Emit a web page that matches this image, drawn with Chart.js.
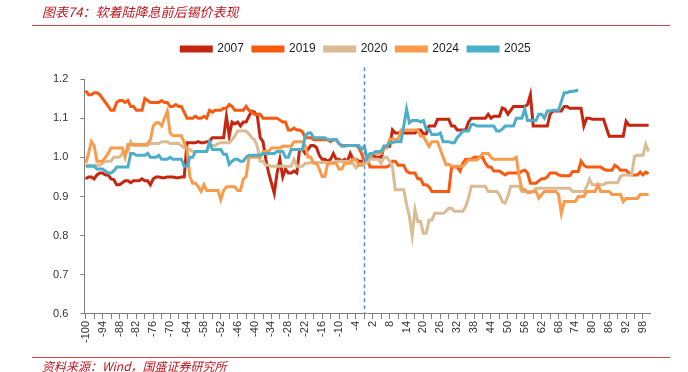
<!DOCTYPE html>
<html>
<head>
<meta charset="utf-8">
<script src="https://cdn.jsdelivr.net/npm/chart.js@4.4.1/dist/chart.umd.min.js"></script>
<style>
  body { margin: 0; background: #fff; }
  .chart-container { position: relative; width: 688px; height: 372px; }
</style>
</head>
<body>
<div class="chart-container"><canvas id="chart"></canvas></div>
<script>
// days relative to the first cut (-100 .. 100)
const days = [];
for (let d = -100; d <= 100; d++) days.push(d);

const yTicks = [0.6, 0.7, 0.8, 0.9, 1.0, 1.1, 1.2];

const s2007 = [
  0.945, 0.95, 0.95, 0.945, 0.955,
  0.96, 0.96, 0.955, 0.955, 0.945,
  0.943, 0.93, 0.93, 0.935, 0.94,
  0.94, 0.935, 0.94, 0.94, 0.94,
  0.945, 0.94, 0.94, 0.93, 0.945,
  0.95, 0.95, 0.948, 0.948, 0.95,
  0.95, 0.95, 0.948, 0.948, 0.95,
  0.95, 1.037, 1.037, 1.037, 1.037,
  1.04, 1.037, 1.037, 1.04, 1.04,
  1.05, 1.05, 1.05, 1.05, 1.05,
  1.105, 1.055, 1.09, 1.085, 1.09,
  1.08, 1.09, 1.09, 1.105, 1.118,
  1.115, 1.105, 1.05, 1.04, 0.995,
  0.96, 0.934, 0.908, 0.96, 0.995,
  0.95, 0.97, 0.96, 0.96, 0.965,
  0.96, 1.02, 1.02, 1.01, 1.02,
  1.03, 1.03, 1.025, 1.005, 0.995,
  0.995, 0.99, 0.995, 1.01, 0.995,
  0.995, 0.99, 0.995, 0.99, 1.01,
  0.995, 0.995, 0.99, 0.99, 0.99,
  1.0, 1.0, 1.005, 1.0, 1.0,
  1.0, 1.028, 1.028, 1.028, 1.07,
  1.062, 1.062, 1.062, 1.062, 1.062,
  1.062, 1.062, 1.062, 1.07, 1.07,
  1.06, 1.06, 1.08, 1.08, 1.08,
  1.097, 1.097, 1.097, 1.097, 1.097,
  1.08, 1.08, 1.07, 1.07, 1.07,
  1.07, 1.09, 1.10, 1.10, 1.10,
  1.10, 1.10, 1.10, 1.11, 1.10,
  1.105, 1.105, 1.105, 1.126, 1.123,
  1.11, 1.12, 1.13, 1.13, 1.13,
  1.13, 1.13, 1.135, 1.16, 1.08,
  1.08, 1.08, 1.08, 1.08, 1.08,
  1.11, 1.118, 1.118, 1.118, 1.118,
  1.13, 1.13, 1.125, 1.125, 1.125,
  1.125, 1.125, 1.08, 1.10, 1.10,
  1.097, 1.097, 1.097, 1.097, 1.097,
  1.075, 1.054, 1.054, 1.054, 1.054,
  1.054, 1.054, 1.092, 1.082, 1.082,
  1.082, 1.082, 1.082, 1.082, 1.082,
  1.082
];

const s2019 = [
  1.17, 1.16, 1.16, 1.165, 1.165,
  1.16, 1.15, 1.14, 1.13, 1.12,
  1.12, 1.14, 1.145, 1.145, 1.14,
  1.145, 1.13, 1.13, 1.12, 1.12,
  1.12, 1.15, 1.145, 1.14, 1.14,
  1.14, 1.14, 1.145, 1.14, 1.14,
  1.13, 1.13, 1.135, 1.13, 1.13,
  1.115, 1.10, 1.10, 1.10, 1.105,
  1.10, 1.10, 1.105, 1.10, 1.12,
  1.115, 1.12, 1.12, 1.12, 1.125,
  1.125, 1.135, 1.13, 1.12, 1.12,
  1.12, 1.12, 1.13, 1.12, 1.115,
  1.11, 1.11, 1.11, 1.10, 1.10,
  1.10, 1.10, 1.10, 1.10, 1.095,
  1.09, 1.09, 1.07, 1.07, 1.075,
  1.07, 1.07, 1.065, 1.05, 1.05,
  1.05, 1.045, 1.045, 1.045, 1.045,
  1.045, 1.045, 1.04, 1.045, 1.045,
  1.035, 1.03, 1.03, 1.03, 1.03,
  1.03, 1.03, 1.025, 1.01, 0.99,
  1.0, 0.975, 0.975, 0.975, 0.975,
  0.975, 0.975, 0.975, 0.98, 0.99,
  0.99, 0.98, 0.98, 0.98, 0.965,
  0.96, 0.96, 0.96, 0.945, 0.945,
  0.93, 0.93, 0.925, 0.913, 0.913,
  0.913, 0.913, 0.913, 0.913, 0.913,
  0.975, 0.975, 0.975, 0.965, 0.985,
  0.995, 0.995, 0.995, 1.0, 1.0,
  1.0, 1.0, 0.985, 0.975, 0.975,
  0.965, 0.965, 0.965, 0.96, 0.955,
  0.96, 0.96, 0.96, 0.96, 0.96,
  0.965, 0.967, 0.96, 0.934, 0.934,
  0.934, 0.94, 0.945, 0.945, 0.95,
  0.96, 0.96, 0.96, 0.955, 0.953,
  0.953, 0.953, 0.953, 0.964, 0.964,
  0.964, 0.99, 0.98, 0.975, 0.975,
  0.975, 0.975, 0.975, 0.975, 0.97,
  0.967, 0.967, 0.967, 0.98, 0.975,
  0.967, 0.967, 0.967, 0.96, 0.955,
  0.955, 0.955, 0.962, 0.955, 0.962,
  0.958
];

const s2020 = [
  0.98, 0.98, 0.98, 0.98, 0.98,
  0.98, 0.985, 0.99, 0.99, 0.99,
  1.0, 1.0, 1.0, 1.01, 1.015,
  1.015, 1.04, 1.03, 1.03, 1.03,
  1.03, 1.03, 1.03, 1.035, 1.035,
  1.035, 1.035, 1.04, 1.04, 1.04,
  1.035, 1.035, 1.035, 1.035, 1.03,
  1.024, 1.024, 1.02, 1.015, 1.015,
  1.015, 1.015, 1.015, 1.015, 1.03,
  1.03, 1.03, 1.035, 1.037, 1.037,
  1.037, 1.037, 1.045, 1.054, 1.067,
  1.067, 1.067, 1.067, 1.06, 1.05,
  1.045, 1.028, 0.99, 0.99, 0.98,
  0.98, 0.977, 0.977, 0.977, 0.977,
  0.977, 0.977, 0.977, 0.977, 0.995,
  0.977, 0.977, 0.977, 0.985, 0.985,
  0.987, 0.987, 0.987, 0.987, 0.987,
  0.987, 0.987, 0.987, 0.987, 0.99,
  0.99, 0.99, 0.99, 0.99, 0.99,
  0.985, 0.973, 0.98, 0.98, 0.985,
  0.985, 0.995, 0.995, 0.995, 0.995,
  0.985, 1.0, 1.0, 0.99, 0.976,
  0.917, 0.917, 0.917, 0.917, 0.88,
  0.849, 0.80, 0.867, 0.836, 0.836,
  0.806, 0.806, 0.84, 0.84, 0.857,
  0.857, 0.857, 0.857, 0.862, 0.87,
  0.87, 0.862, 0.862, 0.862, 0.862,
  0.874, 0.896, 0.926, 0.926, 0.926,
  0.926, 0.926, 0.926, 0.913, 0.913,
  0.913, 0.913, 0.905, 0.887, 0.883,
  0.90, 0.926, 0.926, 0.926, 0.926,
  0.913, 0.913, 0.913, 0.913, 0.913,
  0.921, 0.921, 0.921, 0.921, 0.921,
  0.921, 0.921, 0.921, 0.921, 0.921,
  0.921, 0.921, 0.921, 0.913, 0.913,
  0.913, 0.913, 0.913, 0.925, 0.944,
  0.93, 0.93, 0.93, 0.93, 0.93,
  0.935, 0.935, 0.935, 0.935, 0.935,
  0.951, 0.955, 0.955, 0.955, 0.955,
  1.003, 1.005, 1.005, 1.005, 1.033,
  1.015
];

const s2024 = [
  0.985, 1.01, 1.04, 1.03, 0.99,
  0.99, 0.99, 1.0, 1.01, 1.024,
  1.024, 1.024, 1.024, 1.024, 1.0,
  1.033, 1.033, 1.033, 1.033, 1.033,
  1.033, 1.033, 1.035, 1.045, 1.08,
  1.088, 1.088, 1.08, 1.10, 1.118,
  1.062, 1.055, 1.055, 1.055, 1.055,
  1.037, 1.02, 0.951, 0.934, 0.934,
  0.925, 0.913, 0.93, 0.915, 0.915,
  0.915, 0.915, 0.915, 0.892, 0.915,
  0.925, 0.925, 0.925, 0.925, 0.915,
  0.915, 0.944, 0.951, 1.0, 1.0,
  1.0, 1.0, 1.0, 1.015, 1.015,
  1.015, 1.024, 1.024, 1.024, 1.024,
  1.028, 1.028, 1.028, 1.028, 1.04,
  1.04, 1.04, 1.04, 1.03, 1.0,
  1.0, 0.985, 0.985, 0.97, 0.951,
  0.951, 0.985, 0.985, 0.985, 0.985,
  0.97, 0.97, 0.985, 0.985, 0.985,
  0.995, 0.995, 0.98, 0.98, 0.99,
  1.0, 1.0, 1.01, 1.01, 1.01,
  1.01, 1.024, 1.024, 1.046, 1.046,
  1.046, 1.046, 1.07, 1.07, 1.07,
  1.07, 1.07, 1.07, 1.07, 1.054,
  1.054, 1.04, 1.028, 1.04, 1.04,
  1.04, 1.02, 1.0, 0.982, 0.982,
  0.977, 0.977, 0.977, 0.977, 0.977,
  0.985, 0.993, 0.993, 0.993, 0.993,
  1.0, 1.01, 1.01, 1.01, 1.0,
  0.995, 0.995, 0.995, 0.995, 0.995,
  0.995, 0.995, 0.995, 1.0, 0.951,
  0.918, 0.918, 0.91, 0.91, 0.913,
  0.913, 0.896, 0.905, 0.913, 0.913,
  0.913, 0.913, 0.913, 0.905, 0.857,
  0.887, 0.887, 0.887, 0.887, 0.887,
  0.9, 0.9, 0.9, 0.913, 0.913,
  0.913, 0.913, 0.93, 0.913, 0.913,
  0.913, 0.913, 0.905, 0.905, 0.905,
  0.905, 0.887, 0.895, 0.895, 0.895,
  0.895, 0.895, 0.905, 0.905, 0.905,
  0.905
];

const s2025 = [
  0.977, 0.977, 0.977, 0.977, 0.97,
  0.97, 0.97, 0.965, 0.96, 0.96,
  0.965, 0.975, 0.975, 0.975, 0.975,
  0.975, 1.01, 1.01, 1.005, 1.005,
  1.005, 1.005, 1.01, 1.0, 1.0,
  1.0, 1.005, 0.995, 0.995, 0.995,
  1.0, 0.995, 0.995, 0.995, 0.995,
  0.977, 0.977, 1.0, 1.0, 1.015,
  1.015, 1.015, 1.015, 1.015, 1.04,
  1.02, 1.02, 1.02, 1.02, 1.008,
  1.008, 0.982, 0.99, 0.995, 0.995,
  0.99, 0.99, 1.0, 1.005, 1.005,
  1.005, 1.005, 1.005, 1.01, 1.01,
  1.01, 1.01, 1.01, 1.015, 1.015,
  1.015, 1.0, 1.0, 1.02, 1.02,
  1.02, 1.02, 1.02, 1.054, 1.062,
  1.062, 1.05, 1.05, 1.05, 1.05,
  1.05, 1.045, 1.045, 1.045, 1.045,
  1.035, 1.028, 1.028, 1.03, 1.03,
  1.03, 1.03, 1.03, 1.02, 1.028,
  0.998, 1.01, 1.01, 1.015, 1.015,
  1.015, 1.028, 1.028, 1.037, 1.037,
  1.04, 1.04, 1.04, 1.08, 1.123,
  1.088, 1.094, 1.094, 1.094, 1.09,
  1.094, 1.072, 1.072, 1.058, 1.058,
  1.058, 1.062, 1.04, 1.04, 1.04,
  1.037, 1.037, 1.05, 1.058, 1.067,
  1.067, 1.067, 1.084, 1.084, 1.08,
  1.08, 1.08, 1.08, 1.08, 1.08,
  1.08, 1.067, 1.067, 1.072, 1.08,
  1.08, 1.08, 1.08, 1.10, 1.10,
  1.10, 1.123, 1.094, 1.094, 1.094,
  1.094, 1.11, 1.11, 1.10, 1.118,
  1.118, 1.12, 1.12, 1.12, 1.143,
  1.165, 1.165, 1.168, 1.168, 1.17,
  1.172, null, null, null, null,
  null, null, null, null, null,
  null, null, null, null, null,
  null, null, null, null, null,
  null, null, null, null, null,
  null
];

const seriesNames = ["2007", "2019", "2020", "2024", "2025"];
const seriesData = [s2007, s2019, s2020, s2024, s2025];
const seriesColors = ["#C5260F", "#FA5A0F", "#D9BC93", "#FA9A4B", "#4BAFCB"];
const cutDay = -1;

const titleText = "图表74：软着陆降息前后锡价表现";
const sourceText = "资料来源：Wind，国盛证券研究所";

// leave more room under the legend
const legendGap = {
  id: "legendGap",
  beforeInit: (chart) => {
    const fit = chart.legend.fit;
    chart.legend.fit = function () {
      fit.bind(chart.legend)();
      this.height += 14;
    };
  },
};

const decorations = {
  id: "decorations",
  beforeDraw: (chart) => {
    const ctx = chart.ctx;
    ctx.save();
    ctx.fillStyle = "#fff";
    ctx.fillRect(0, 0, chart.width, chart.height);
    ctx.font = 'italic 13px "Noto Sans CJK SC"';
    ctx.fillStyle = "#C0141E";
    ctx.textBaseline = "middle";
    ctx.fillText(titleText, 42, 12);
    ctx.font = 'italic 12px "Noto Sans CJK SC"';
    ctx.fillText(sourceText, 42, 366);
    ctx.strokeStyle = "#D9454B";
    ctx.lineWidth = 1;
    ctx.beginPath();
    ctx.moveTo(32, 25.5);
    ctx.lineTo(670, 25.5);
    ctx.moveTo(32, 357.5);
    ctx.lineTo(670, 357.5);
    ctx.stroke();
    ctx.restore();
  },
  afterDatasetsDraw: (chart) => {
    const ctx = chart.ctx;
    const xAxis = chart.scales.x;
    const yAxis = chart.scales.y;
    const x = Math.round(xAxis.getPixelForValue(days.indexOf(cutDay))) + 0.5;
    ctx.save();
    ctx.strokeStyle = "#5A8ED4";
    ctx.lineWidth = 1.5;
    ctx.setLineDash([4, 3]);
    ctx.beginPath();
    ctx.moveTo(x, yAxis.getPixelForValue(1.23));
    ctx.lineTo(x, yAxis.bottom);
    ctx.stroke();
    ctx.restore();
  },
};

new Chart(document.getElementById("chart"), {
  type: "line",
  data: {
    labels: days,
    datasets: seriesNames.map((name, i) => ({
      label: name,
      data: seriesData[i],
      borderColor: seriesColors[i],
      backgroundColor: seriesColors[i],
      borderWidth: 3,
      pointRadius: 0,
      tension: 0,
      spanGaps: false,
      order: seriesNames.length - i,
    })),
  },
  options: {
    responsive: true,
    maintainAspectRatio: false,
    animation: false,
    layout: { padding: { top: 34, left: 41, right: 17, bottom: 27 } },
    plugins: {
      tooltip: { enabled: false },
      legend: {
        position: "top",
        labels: {
          boxWidth: 30,
          boxHeight: 4,
          padding: 9,
          color: "#222",
          font: { family: '"Liberation Sans", Arial, sans-serif', size: 12 },
          sort: (a, b) => a.datasetIndex - b.datasetIndex,
        },
      },
    },
    scales: {
      x: {
        offset: true,
        ticks: {
          autoSkip: false,
          maxRotation: 90,
          minRotation: 90,
          padding: 2,
          color: "#333",
          font: { family: '"Liberation Sans", Arial, sans-serif', size: 11 },
          callback: function (value, index) {
            return index % 6 === 0 ? String(days[index]) : "";
          },
        },
        grid: {
          drawOnChartArea: false,
          drawTicks: true,
          tickLength: 5,
          tickColor: (c) => (c.index % 3 === 0 ? "#7f7f7f" : "rgba(0,0,0,0)"),
        },
        border: { display: true, color: "#7f7f7f" },
      },
      y: {
        min: yTicks[0],
        max: yTicks[yTicks.length - 1],
        afterBuildTicks: (axis) => {
          axis.ticks = yTicks.map((v) => ({ value: v }));
        },
        ticks: {
          color: "#333",
          padding: 12,
          font: { family: '"Liberation Sans", Arial, sans-serif', size: 11 },
          callback: (v) => Number(v).toFixed(1),
        },
        grid: {
          drawOnChartArea: false,
          drawTicks: true,
          tickLength: 4,
          tickColor: "#7f7f7f",
        },
        border: { display: true, color: "#7f7f7f" },
      },
      yRight: {
        position: "right",
        display: true,
        grid: { display: false },
        border: { display: false },
        ticks: { display: false },
        afterFit: (axis) => {
          axis.width = 21;
        },
      },
    },
  },
  plugins: [legendGap, decorations],
});
</script>
</body>
</html>
